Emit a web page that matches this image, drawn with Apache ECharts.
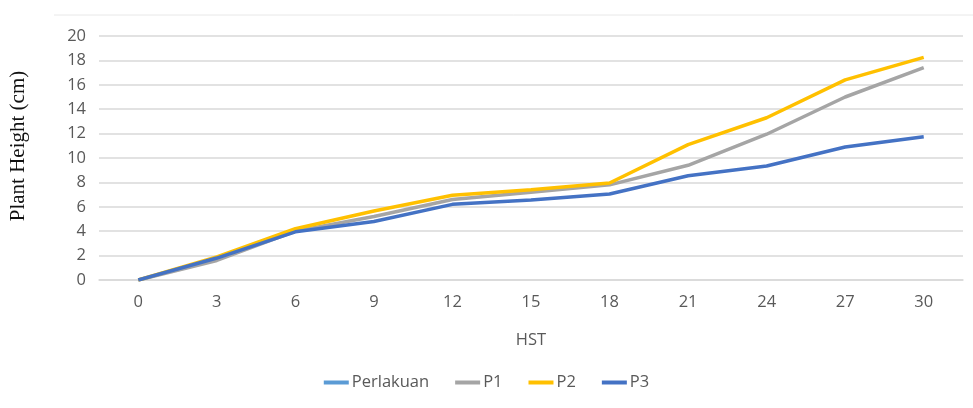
<!DOCTYPE html>
<html>
<head>
<meta charset="utf-8">
<script src="https://cdn.jsdelivr.net/npm/echarts@6/dist/echarts.min.js"></script>
<style>
  html, body { margin: 0; padding: 0; background: #fff; }
  #main { width: 973px; height: 408px; }
</style>
</head>
<body>
<div id="main"></div>
<script>
// data
var hst = ['0', '3', '6', '9', '12', '15', '18', '21', '24', '27', '30'];
var perlakuan = [];
var p1 = [0, 1.6, 4.0, 5.2, 6.6, 7.2, 7.8, 9.4, 11.95, 15.0, 17.4];
var p2 = [0, 1.9, 4.2, 5.65, 6.95, 7.4, 7.95, 11.1, 13.3, 16.4, 18.25];
var p3 = [0, 1.8, 3.95, 4.8, 6.2, 6.55, 7.05, 8.55, 9.35, 10.9, 11.75];
var yTicks = { min: 0, max: 20, step: 2 };

function lineSeries(name, data, color) {
    return {
        name: name,
        type: 'line',
        data: data,
        symbol: 'none',
        lineStyle: { width: 3.5, color: color },
        itemStyle: { color: color }
    };
}

var myChart = echarts.init(document.getElementById('main'));

var option = {
    animation: false,
    color: ['#5B9BD5', '#A5A5A5', '#FFC000', '#4472C4'],
    grid: { left: 97, right: 10, top: 36, bottom: 128 },
    graphic: [{
        type: 'line',
        shape: { x1: 54, y1: 15, x2: 973, y2: 15 },
        style: { stroke: '#e8e8e8', lineWidth: 1 }
    }],
    legend: {
        bottom: 12,
        left: 'center',
        itemWidth: 25,
        itemHeight: 4,
        itemGap: 26,
        icon: 'rect',
        textStyle: { color: '#595959', fontSize: 16.5, fontFamily: 'Open Sans', padding: [0, 0, 0, -2] },
        data: ['Perlakuan', 'P1', 'P2', 'P3']
    },
    xAxis: {
        type: 'category',
        data: hst,
        boundaryGap: true,
        name: 'HST',
        nameLocation: 'middle',
        nameGap: 52,
        nameTextStyle: { color: '#595959', fontSize: 16.5, fontFamily: 'Open Sans' },
        axisLine: { lineStyle: { color: '#d9d9d9', width: 1.5 } },
        axisTick: { show: false },
        axisLabel: { color: '#595959', fontSize: 16.5, fontFamily: 'Open Sans', margin: 14 }
    },
    yAxis: {
        type: 'value',
        min: yTicks.min,
        max: yTicks.max,
        interval: yTicks.step,
        name: 'Plant Height (cm)',
        nameLocation: 'middle',
        nameGap: 70,
        nameTextStyle: {
            color: '#111', fontSize: 21, fontFamily: 'Liberation Serif',
            padding: [0, 0, 0, 24]
        },
        axisLine: { show: false },
        axisTick: { show: false },
        splitLine: { lineStyle: { color: '#d9d9d9', width: 1.5 } },
        axisLabel: { color: '#595959', fontSize: 16.5, fontFamily: 'Open Sans', margin: 13 }
    },
    series: [
        lineSeries('Perlakuan', perlakuan, '#5B9BD5'),
        lineSeries('P1', p1, '#A5A5A5'),
        lineSeries('P2', p2, '#FFC000'),
        lineSeries('P3', p3, '#4472C4')
    ]
};

myChart.setOption(option);
</script>
</body>
</html>
